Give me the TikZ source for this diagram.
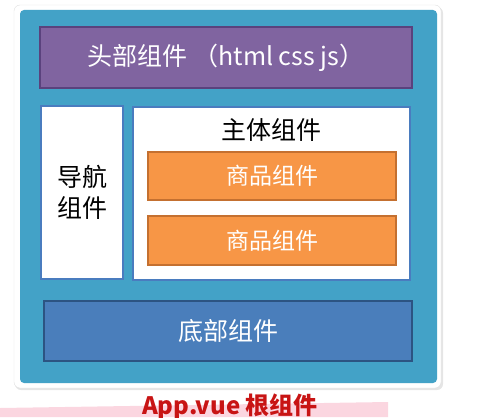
\documentclass[tikz,border=0pt]{standalone}
\usepackage{fontspec}
\setmainfont{Noto Sans CJK SC}
\definecolor{rootblue}{RGB}{67,162,199}
\definecolor{headpurple}{RGB}{128,100,160}
\definecolor{headedge}{RGB}{90,66,125}
\definecolor{goodsorange}{RGB}{247,150,70}
\definecolor{goodsedge}{RGB}{196,112,48}
\definecolor{footblue}{RGB}{74,126,187}
\definecolor{footedge}{RGB}{44,84,130}
\definecolor{paneedge}{RGB}{74,124,191}
\definecolor{notered}{RGB}{200,20,20}
\definecolor{markpink}{RGB}{251,214,224}
\begin{document}
\begin{tikzpicture}[x=1pt, y=-1pt,
        frame/.style={rectangle, draw=black!12, fill=white, rounded corners=6pt, inner sep=0pt},
        root/.style={rectangle, fill=rootblue, rounded corners=4pt, inner sep=0pt},
        head/.style={rectangle, draw=headedge, line width=1.5pt, fill=headpurple, text=white, inner sep=0pt, font=\fontsize{25}{29}\selectfont},
        pane/.style={rectangle, draw=paneedge, line width=1.5pt, fill=white, text=black, inner sep=0pt, font=\fontsize{25}{31}\selectfont, align=center},
        goods/.style={rectangle, draw=goodsedge, line width=1.2pt, fill=goodsorange, text=white, minimum width=248pt, minimum height=48pt, inner sep=0pt, font=\fontsize{23}{27}\selectfont},
        foot/.style={rectangle, draw=footedge, line width=1.5pt, fill=footblue, text=white, inner sep=0pt, font=\fontsize{25}{29}\selectfont}
    ]
        \useasboundingbox (0,0) rectangle (502,417);
        % shadow and frame of the root component
        \fill[black!10, rounded corners=6pt] (15,7) rectangle (443,390);
        \node[frame, minimum width=427pt, minimum height=383pt] (frame) at (227.5,196.5) {};
        \node[root, minimum width=417pt, minimum height=373pt] (root) at (228.5,196.5) {};

        \node[head, minimum width=372pt, minimum height=61pt] (head) at (226,57.5) {头部组件 （html css js）};
        \node[pane, minimum width=82pt, minimum height=173pt] (nav) at (82,192.5) {导航\\组件};
        \node[pane, minimum width=277pt, minimum height=173pt] (main) at (271.5,193.5) {};
        \node[font=\fontsize{25}{29}\selectfont] (maintitle) at (271.5,130) {主体组件};
        \node[goods] (goodsa) at (272,176) {商品组件};
        \node[goods, minimum height=49pt] (goodsb) at (272,240.5) {商品组件};
        \node[foot, minimum width=368pt, minimum height=60pt] (foot) at (228,331) {底部组件};

        % highlighter stroke under the caption
        \fill[markpink] (0,408) -- (388,402) -- (388,417) -- (0,417) -- cycle;
        \node[anchor=base, text=notered, font=\fontsize{24}{28}\selectfont\bfseries] (caption) at (230,414) {App.vue 根组件};
    \end{tikzpicture}
\end{document}
